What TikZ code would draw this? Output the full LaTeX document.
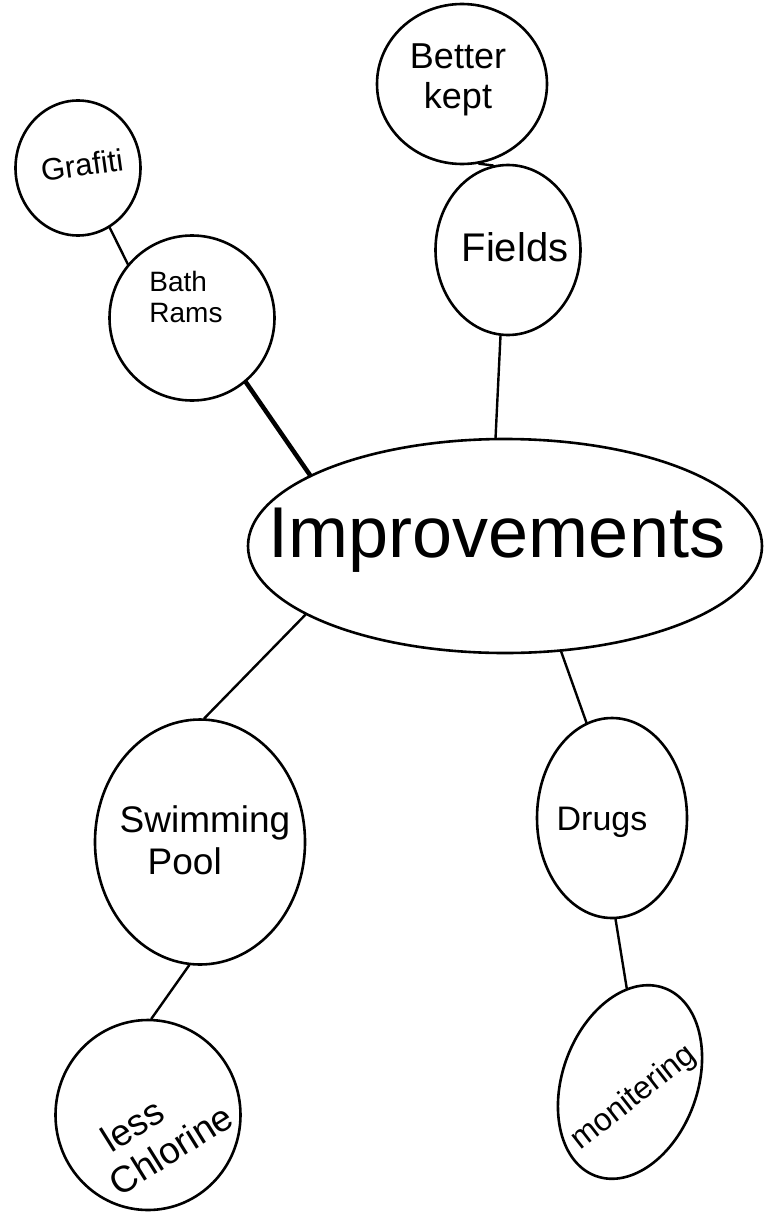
\documentclass[tikz,border=0pt]{standalone}
\usepackage{fontspec}
\setmainfont{Liberation Sans}
\usetikzlibrary{shapes.geometric}
\begin{document}
\begin{tikzpicture}[x=1pt,y=-1pt,
  blob/.style={draw,ellipse,line width=2.6pt,inner sep=0pt},
  txt/.style={align=left,inner sep=0pt},
  link/.style={line width=2.4pt,line cap=round},
  fs/.style={font=\fontsize{#1}{#1}\selectfont}]
\useasboundingbox (0,0) rectangle (775,1220);
\fill[white] (0,0) rectangle (775,1220);
% shapes
\node[blob,minimum width=125pt,minimum height=135pt] (graf) at (78,168) {};
\node[blob,minimum width=165pt,minimum height=165pt] (bath) at (192,318) {};
\node[blob,minimum width=170pt,minimum height=160pt] (kept) at (462,84) {};
\node[blob,minimum width=145pt,minimum height=170pt] (fields) at (508,250) {};
\node[blob,minimum width=514pt,minimum height=214pt] (imp) at (505,546) {};
\node[blob,minimum width=210pt,minimum height=245pt] (swim) at (200,842) {};
\node[blob,minimum width=150pt,minimum height=200pt] (drugs) at (612,818) {};
\node[blob,minimum width=185pt,minimum height=190pt] (chl) at (148,1115) {};
\node[blob,minimum width=200pt,minimum height=135pt,rotate=70] (mon) at (630,1082) {};
% texts
\node[txt,fs=31,rotate=8] (graftxt) at (82,165) {Grafiti};
\node[txt,fs=28] (bathtxt) at (186,297) {Bath\\[3pt]Rams};
\node[txt,fs=36,align=center] (kepttxt) at (458,80) {Better\\[4pt]kept};
\node[txt,fs=40] (fieldstxt) at (515,247) {Fields};
\node[txt,fs=72] (imptxt) at (497,540) {Improvements};
\node[txt,fs=37] (swimtxt) at (205,840) {Swimming\\[5pt]\hspace{28pt}Pool};
\node[txt,fs=34] (drugstxt) at (602,822) {Drugs};
\node[txt,fs=37,rotate=32] (chltxt) at (160,1132) {\hspace{16pt}less\\[4pt]Chlorine};
\node[txt,fs=32,rotate=38] (montxt) at (634,1098) {monitering};
% connectors
\draw[link] (graf.-62) -- (bath.140);
\draw[link,line width=4.5pt] (bath.-50) -- (imp.160);
\draw[link] (kept.-78) -- (fields.100);
\draw[link] (fields.-95) -- (imp.95);
\draw[link] (imp.-161) -- (swim.88);
\draw[link] (imp.-62) -- (drugs.105);
\draw[link] (swim.-95) -- (chl.88);
\draw[link] (drugs.-88) -- (mon.22);
\end{tikzpicture}
\end{document}
